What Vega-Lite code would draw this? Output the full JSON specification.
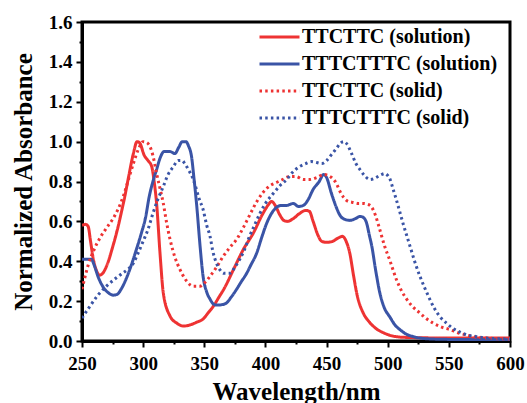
{
  "$schema": "https://vega.github.io/schema/vega-lite/v6.json",
  "width": 428,
  "height": 319,
  "autosize": {"type": "none"},
  "padding": {"left": 82, "top": 22, "right": 17, "bottom": 62},
  "background": "white",
  "config": {
    "view": {"stroke": "black", "strokeWidth": 3},
    "font": "Liberation Serif",
    "axis": {
      "grid": false,
      "domainColor": "black",
      "domainWidth": 3,
      "tickColor": "black",
      "tickWidth": 2,
      "labelFont": "Liberation Serif",
      "labelFontWeight": "bold",
      "labelFontSize": 19,
      "labelColor": "black",
      "titleFont": "Liberation Serif",
      "titleFontWeight": "bold",
      "titleFontSize": 25,
      "titleColor": "black"
    },
    "legend": {
      "orient": "none",
      "legendX": 176,
      "legendY": 5,
      "symbolType": "stroke",
      "symbolSize": 1600,
      "symbolStrokeWidth": 3,
      "clipHeight": 20,
      "labelFont": "Liberation Serif",
      "labelFontWeight": "bold",
      "labelFontSize": 20,
      "labelColor": "black",
      "labelLimit": 400,
      "labelOffset": 1,
      "rowPadding": 7,
      "title": null
    }
  },
  "data": {
    "values": [
      {"s": "TTCTTC (solution)", "x": 250, "y": 0.58},
      {"s": "TTCTTC (solution)", "x": 253, "y": 0.585},
      {"s": "TTCTTC (solution)", "x": 255, "y": 0.575},
      {"s": "TTCTTC (solution)", "x": 257, "y": 0.5},
      {"s": "TTCTTC (solution)", "x": 259, "y": 0.42},
      {"s": "TTCTTC (solution)", "x": 262, "y": 0.35},
      {"s": "TTCTTC (solution)", "x": 264.5, "y": 0.33},
      {"s": "TTCTTC (solution)", "x": 267, "y": 0.34},
      {"s": "TTCTTC (solution)", "x": 271, "y": 0.39},
      {"s": "TTCTTC (solution)", "x": 275, "y": 0.47},
      {"s": "TTCTTC (solution)", "x": 279, "y": 0.56},
      {"s": "TTCTTC (solution)", "x": 282, "y": 0.64},
      {"s": "TTCTTC (solution)", "x": 285, "y": 0.725},
      {"s": "TTCTTC (solution)", "x": 288, "y": 0.82},
      {"s": "TTCTTC (solution)", "x": 292, "y": 0.94},
      {"s": "TTCTTC (solution)", "x": 295, "y": 1.0},
      {"s": "TTCTTC (solution)", "x": 297, "y": 0.995},
      {"s": "TTCTTC (solution)", "x": 301, "y": 0.93},
      {"s": "TTCTTC (solution)", "x": 304, "y": 0.905},
      {"s": "TTCTTC (solution)", "x": 307, "y": 0.875},
      {"s": "TTCTTC (solution)", "x": 309, "y": 0.8},
      {"s": "TTCTTC (solution)", "x": 311, "y": 0.69},
      {"s": "TTCTTC (solution)", "x": 313.8, "y": 0.44},
      {"s": "TTCTTC (solution)", "x": 316.5, "y": 0.24},
      {"s": "TTCTTC (solution)", "x": 322, "y": 0.125},
      {"s": "TTCTTC (solution)", "x": 327.4, "y": 0.09},
      {"s": "TTCTTC (solution)", "x": 333, "y": 0.075},
      {"s": "TTCTTC (solution)", "x": 338, "y": 0.08},
      {"s": "TTCTTC (solution)", "x": 344, "y": 0.095},
      {"s": "TTCTTC (solution)", "x": 349, "y": 0.11},
      {"s": "TTCTTC (solution)", "x": 353, "y": 0.14},
      {"s": "TTCTTC (solution)", "x": 357.5, "y": 0.175},
      {"s": "TTCTTC (solution)", "x": 362, "y": 0.22},
      {"s": "TTCTTC (solution)", "x": 366, "y": 0.26},
      {"s": "TTCTTC (solution)", "x": 374, "y": 0.36},
      {"s": "TTCTTC (solution)", "x": 382, "y": 0.46},
      {"s": "TTCTTC (solution)", "x": 390, "y": 0.54},
      {"s": "TTCTTC (solution)", "x": 398, "y": 0.64},
      {"s": "TTCTTC (solution)", "x": 402, "y": 0.68},
      {"s": "TTCTTC (solution)", "x": 405, "y": 0.7},
      {"s": "TTCTTC (solution)", "x": 408, "y": 0.68},
      {"s": "TTCTTC (solution)", "x": 412, "y": 0.63},
      {"s": "TTCTTC (solution)", "x": 415, "y": 0.605},
      {"s": "TTCTTC (solution)", "x": 418, "y": 0.6},
      {"s": "TTCTTC (solution)", "x": 423, "y": 0.615},
      {"s": "TTCTTC (solution)", "x": 428, "y": 0.64},
      {"s": "TTCTTC (solution)", "x": 433, "y": 0.655},
      {"s": "TTCTTC (solution)", "x": 436, "y": 0.65},
      {"s": "TTCTTC (solution)", "x": 439, "y": 0.6},
      {"s": "TTCTTC (solution)", "x": 443, "y": 0.53},
      {"s": "TTCTTC (solution)", "x": 446, "y": 0.5},
      {"s": "TTCTTC (solution)", "x": 450, "y": 0.495},
      {"s": "TTCTTC (solution)", "x": 455, "y": 0.5},
      {"s": "TTCTTC (solution)", "x": 459, "y": 0.515},
      {"s": "TTCTTC (solution)", "x": 463, "y": 0.525},
      {"s": "TTCTTC (solution)", "x": 466, "y": 0.5},
      {"s": "TTCTTC (solution)", "x": 469, "y": 0.44},
      {"s": "TTCTTC (solution)", "x": 472, "y": 0.33},
      {"s": "TTCTTC (solution)", "x": 475, "y": 0.23},
      {"s": "TTCTTC (solution)", "x": 480, "y": 0.14},
      {"s": "TTCTTC (solution)", "x": 485, "y": 0.095},
      {"s": "TTCTTC (solution)", "x": 491, "y": 0.06},
      {"s": "TTCTTC (solution)", "x": 497, "y": 0.04},
      {"s": "TTCTTC (solution)", "x": 504, "y": 0.025},
      {"s": "TTCTTC (solution)", "x": 515, "y": 0.018},
      {"s": "TTCTTC (solution)", "x": 550, "y": 0.015},
      {"s": "TTCTTC (solution)", "x": 600, "y": 0.015},

      {"s": "TTTCTTTC (solution)", "x": 250, "y": 0.41},
      {"s": "TTTCTTTC (solution)", "x": 254, "y": 0.41},
      {"s": "TTTCTTTC (solution)", "x": 257.6, "y": 0.41},
      {"s": "TTTCTTTC (solution)", "x": 260, "y": 0.38},
      {"s": "TTTCTTTC (solution)", "x": 263, "y": 0.325},
      {"s": "TTTCTTTC (solution)", "x": 268.5, "y": 0.26},
      {"s": "TTTCTTTC (solution)", "x": 272, "y": 0.24},
      {"s": "TTTCTTTC (solution)", "x": 275.5, "y": 0.23},
      {"s": "TTTCTTTC (solution)", "x": 279, "y": 0.235},
      {"s": "TTTCTTTC (solution)", "x": 282, "y": 0.26},
      {"s": "TTTCTTTC (solution)", "x": 286, "y": 0.31},
      {"s": "TTTCTTTC (solution)", "x": 290, "y": 0.375},
      {"s": "TTTCTTTC (solution)", "x": 294, "y": 0.45},
      {"s": "TTTCTTTC (solution)", "x": 298.5, "y": 0.54},
      {"s": "TTTCTTTC (solution)", "x": 302, "y": 0.62},
      {"s": "TTTCTTTC (solution)", "x": 305, "y": 0.725},
      {"s": "TTTCTTTC (solution)", "x": 308, "y": 0.8},
      {"s": "TTTCTTTC (solution)", "x": 311, "y": 0.86},
      {"s": "TTTCTTTC (solution)", "x": 314, "y": 0.92},
      {"s": "TTTCTTTC (solution)", "x": 317, "y": 0.95},
      {"s": "TTTCTTTC (solution)", "x": 322, "y": 0.95},
      {"s": "TTTCTTTC (solution)", "x": 326, "y": 0.94},
      {"s": "TTTCTTTC (solution)", "x": 329, "y": 0.97},
      {"s": "TTTCTTTC (solution)", "x": 332, "y": 1.0},
      {"s": "TTTCTTTC (solution)", "x": 335, "y": 1.0},
      {"s": "TTTCTTTC (solution)", "x": 337, "y": 0.98},
      {"s": "TTTCTTTC (solution)", "x": 339.7, "y": 0.92},
      {"s": "TTTCTTTC (solution)", "x": 341.5, "y": 0.82},
      {"s": "TTTCTTTC (solution)", "x": 343.8, "y": 0.68},
      {"s": "TTTCTTTC (solution)", "x": 346.5, "y": 0.48},
      {"s": "TTTCTTTC (solution)", "x": 349, "y": 0.325},
      {"s": "TTTCTTTC (solution)", "x": 352, "y": 0.245},
      {"s": "TTTCTTTC (solution)", "x": 354.7, "y": 0.21},
      {"s": "TTTCTTTC (solution)", "x": 357.5, "y": 0.185},
      {"s": "TTTCTTTC (solution)", "x": 360, "y": 0.18},
      {"s": "TTTCTTTC (solution)", "x": 364, "y": 0.182},
      {"s": "TTTCTTTC (solution)", "x": 368, "y": 0.19},
      {"s": "TTTCTTTC (solution)", "x": 372, "y": 0.22},
      {"s": "TTTCTTTC (solution)", "x": 376.5, "y": 0.26},
      {"s": "TTTCTTTC (solution)", "x": 380, "y": 0.295},
      {"s": "TTTCTTTC (solution)", "x": 384.7, "y": 0.34},
      {"s": "TTTCTTTC (solution)", "x": 388, "y": 0.38},
      {"s": "TTTCTTTC (solution)", "x": 392.8, "y": 0.44},
      {"s": "TTTCTTTC (solution)", "x": 397, "y": 0.52},
      {"s": "TTTCTTTC (solution)", "x": 401, "y": 0.59},
      {"s": "TTTCTTTC (solution)", "x": 405, "y": 0.64},
      {"s": "TTTCTTTC (solution)", "x": 409, "y": 0.67},
      {"s": "TTTCTTTC (solution)", "x": 413, "y": 0.68},
      {"s": "TTTCTTTC (solution)", "x": 417.4, "y": 0.68},
      {"s": "TTTCTTTC (solution)", "x": 422.8, "y": 0.69},
      {"s": "TTTCTTTC (solution)", "x": 427, "y": 0.675},
      {"s": "TTTCTTTC (solution)", "x": 431, "y": 0.68},
      {"s": "TTTCTTTC (solution)", "x": 435, "y": 0.71},
      {"s": "TTTCTTTC (solution)", "x": 439, "y": 0.76},
      {"s": "TTTCTTTC (solution)", "x": 444, "y": 0.8},
      {"s": "TTTCTTTC (solution)", "x": 447.5, "y": 0.835},
      {"s": "TTTCTTTC (solution)", "x": 450, "y": 0.82},
      {"s": "TTTCTTTC (solution)", "x": 454, "y": 0.74},
      {"s": "TTTCTTTC (solution)", "x": 458, "y": 0.67},
      {"s": "TTTCTTTC (solution)", "x": 461, "y": 0.63},
      {"s": "TTTCTTTC (solution)", "x": 465, "y": 0.61},
      {"s": "TTTCTTTC (solution)", "x": 469, "y": 0.605},
      {"s": "TTTCTTTC (solution)", "x": 474, "y": 0.615},
      {"s": "TTTCTTTC (solution)", "x": 477.3, "y": 0.625},
      {"s": "TTTCTTTC (solution)", "x": 480, "y": 0.62},
      {"s": "TTTCTTTC (solution)", "x": 482.8, "y": 0.59},
      {"s": "TTTCTTTC (solution)", "x": 485, "y": 0.53},
      {"s": "TTTCTTTC (solution)", "x": 487, "y": 0.475},
      {"s": "TTTCTTTC (solution)", "x": 490, "y": 0.36},
      {"s": "TTTCTTTC (solution)", "x": 493.6, "y": 0.24},
      {"s": "TTTCTTTC (solution)", "x": 497, "y": 0.17},
      {"s": "TTTCTTTC (solution)", "x": 501.8, "y": 0.12},
      {"s": "TTTCTTTC (solution)", "x": 506, "y": 0.08},
      {"s": "TTTCTTTC (solution)", "x": 510, "y": 0.057},
      {"s": "TTTCTTTC (solution)", "x": 515, "y": 0.035},
      {"s": "TTTCTTTC (solution)", "x": 521, "y": 0.022},
      {"s": "TTTCTTTC (solution)", "x": 530, "y": 0.012},
      {"s": "TTTCTTTC (solution)", "x": 550, "y": 0.008},
      {"s": "TTTCTTTC (solution)", "x": 600, "y": 0.006},

      {"s": "TTCTTC (solid)", "x": 250, "y": 0.26},
      {"s": "TTCTTC (solid)", "x": 252, "y": 0.31},
      {"s": "TTCTTC (solid)", "x": 255, "y": 0.38},
      {"s": "TTCTTC (solid)", "x": 260, "y": 0.46},
      {"s": "TTCTTC (solid)", "x": 265, "y": 0.52},
      {"s": "TTCTTC (solid)", "x": 271, "y": 0.575},
      {"s": "TTCTTC (solid)", "x": 275, "y": 0.61},
      {"s": "TTCTTC (solid)", "x": 279.4, "y": 0.66},
      {"s": "TTCTTC (solid)", "x": 284, "y": 0.73},
      {"s": "TTCTTC (solid)", "x": 288, "y": 0.81},
      {"s": "TTCTTC (solid)", "x": 292, "y": 0.89},
      {"s": "TTCTTC (solid)", "x": 296, "y": 0.96},
      {"s": "TTCTTC (solid)", "x": 300, "y": 1.0},
      {"s": "TTCTTC (solid)", "x": 303, "y": 0.995},
      {"s": "TTCTTC (solid)", "x": 305.6, "y": 0.975},
      {"s": "TTCTTC (solid)", "x": 308, "y": 0.93},
      {"s": "TTCTTC (solid)", "x": 311, "y": 0.84},
      {"s": "TTCTTC (solid)", "x": 314, "y": 0.76},
      {"s": "TTCTTC (solid)", "x": 316.5, "y": 0.69},
      {"s": "TTCTTC (solid)", "x": 319, "y": 0.6},
      {"s": "TTCTTC (solid)", "x": 322, "y": 0.51},
      {"s": "TTCTTC (solid)", "x": 326, "y": 0.42},
      {"s": "TTCTTC (solid)", "x": 330, "y": 0.36},
      {"s": "TTCTTC (solid)", "x": 335, "y": 0.305},
      {"s": "TTCTTC (solid)", "x": 341, "y": 0.275},
      {"s": "TTCTTC (solid)", "x": 346.5, "y": 0.275},
      {"s": "TTCTTC (solid)", "x": 350, "y": 0.29},
      {"s": "TTCTTC (solid)", "x": 354.7, "y": 0.325},
      {"s": "TTCTTC (solid)", "x": 360, "y": 0.37},
      {"s": "TTCTTC (solid)", "x": 365.5, "y": 0.425},
      {"s": "TTCTTC (solid)", "x": 371, "y": 0.47},
      {"s": "TTCTTC (solid)", "x": 376.5, "y": 0.51},
      {"s": "TTCTTC (solid)", "x": 382, "y": 0.57},
      {"s": "TTCTTC (solid)", "x": 387, "y": 0.63},
      {"s": "TTCTTC (solid)", "x": 393, "y": 0.7},
      {"s": "TTCTTC (solid)", "x": 398, "y": 0.745},
      {"s": "TTCTTC (solid)", "x": 404, "y": 0.78},
      {"s": "TTCTTC (solid)", "x": 409, "y": 0.795},
      {"s": "TTCTTC (solid)", "x": 414, "y": 0.81},
      {"s": "TTCTTC (solid)", "x": 420, "y": 0.825},
      {"s": "TTCTTC (solid)", "x": 425, "y": 0.825},
      {"s": "TTCTTC (solid)", "x": 431, "y": 0.81},
      {"s": "TTCTTC (solid)", "x": 436, "y": 0.81},
      {"s": "TTCTTC (solid)", "x": 442, "y": 0.82},
      {"s": "TTCTTC (solid)", "x": 447.7, "y": 0.835},
      {"s": "TTCTTC (solid)", "x": 454, "y": 0.82},
      {"s": "TTCTTC (solid)", "x": 458, "y": 0.79},
      {"s": "TTCTTC (solid)", "x": 461, "y": 0.75},
      {"s": "TTCTTC (solid)", "x": 464, "y": 0.72},
      {"s": "TTCTTC (solid)", "x": 467.8, "y": 0.7},
      {"s": "TTCTTC (solid)", "x": 472, "y": 0.695},
      {"s": "TTCTTC (solid)", "x": 476, "y": 0.69},
      {"s": "TTCTTC (solid)", "x": 480, "y": 0.69},
      {"s": "TTCTTC (solid)", "x": 484, "y": 0.685},
      {"s": "TTCTTC (solid)", "x": 487, "y": 0.67},
      {"s": "TTCTTC (solid)", "x": 490, "y": 0.63},
      {"s": "TTCTTC (solid)", "x": 493, "y": 0.57},
      {"s": "TTCTTC (solid)", "x": 497.5, "y": 0.475},
      {"s": "TTCTTC (solid)", "x": 502, "y": 0.4},
      {"s": "TTCTTC (solid)", "x": 507, "y": 0.31},
      {"s": "TTCTTC (solid)", "x": 511, "y": 0.255},
      {"s": "TTCTTC (solid)", "x": 515.5, "y": 0.21},
      {"s": "TTCTTC (solid)", "x": 520, "y": 0.175},
      {"s": "TTCTTC (solid)", "x": 526.4, "y": 0.14},
      {"s": "TTCTTC (solid)", "x": 531, "y": 0.115},
      {"s": "TTCTTC (solid)", "x": 537, "y": 0.09},
      {"s": "TTCTTC (solid)", "x": 544, "y": 0.07},
      {"s": "TTCTTC (solid)", "x": 551, "y": 0.057},
      {"s": "TTCTTC (solid)", "x": 558, "y": 0.04},
      {"s": "TTCTTC (solid)", "x": 564.6, "y": 0.03},
      {"s": "TTCTTC (solid)", "x": 572, "y": 0.02},
      {"s": "TTCTTC (solid)", "x": 580, "y": 0.015},
      {"s": "TTCTTC (solid)", "x": 600, "y": 0.01},

      {"s": "TTTCTTTC (solid)", "x": 250, "y": 0.115},
      {"s": "TTTCTTTC (solid)", "x": 256, "y": 0.17},
      {"s": "TTTCTTTC (solid)", "x": 263, "y": 0.23},
      {"s": "TTTCTTTC (solid)", "x": 270, "y": 0.275},
      {"s": "TTTCTTTC (solid)", "x": 276.7, "y": 0.31},
      {"s": "TTTCTTTC (solid)", "x": 282, "y": 0.335},
      {"s": "TTTCTTTC (solid)", "x": 287.6, "y": 0.36},
      {"s": "TTTCTTTC (solid)", "x": 292, "y": 0.39},
      {"s": "TTTCTTTC (solid)", "x": 295.8, "y": 0.44},
      {"s": "TTTCTTTC (solid)", "x": 300, "y": 0.5},
      {"s": "TTTCTTTC (solid)", "x": 304, "y": 0.56},
      {"s": "TTTCTTTC (solid)", "x": 308, "y": 0.64},
      {"s": "TTTCTTTC (solid)", "x": 312, "y": 0.71},
      {"s": "TTTCTTTC (solid)", "x": 316.5, "y": 0.775},
      {"s": "TTTCTTTC (solid)", "x": 320, "y": 0.83},
      {"s": "TTTCTTTC (solid)", "x": 324.7, "y": 0.875},
      {"s": "TTTCTTTC (solid)", "x": 328.8, "y": 0.905},
      {"s": "TTTCTTTC (solid)", "x": 332, "y": 0.905},
      {"s": "TTTCTTTC (solid)", "x": 334, "y": 0.89},
      {"s": "TTTCTTTC (solid)", "x": 337, "y": 0.86},
      {"s": "TTTCTTTC (solid)", "x": 341, "y": 0.81},
      {"s": "TTTCTTTC (solid)", "x": 346, "y": 0.71},
      {"s": "TTTCTTTC (solid)", "x": 349, "y": 0.66},
      {"s": "TTTCTTTC (solid)", "x": 352, "y": 0.58},
      {"s": "TTTCTTTC (solid)", "x": 354.7, "y": 0.525},
      {"s": "TTTCTTTC (solid)", "x": 357, "y": 0.45},
      {"s": "TTTCTTTC (solid)", "x": 360, "y": 0.39},
      {"s": "TTTCTTTC (solid)", "x": 363, "y": 0.355},
      {"s": "TTTCTTTC (solid)", "x": 366, "y": 0.34},
      {"s": "TTTCTTTC (solid)", "x": 371, "y": 0.34},
      {"s": "TTTCTTTC (solid)", "x": 375, "y": 0.37},
      {"s": "TTTCTTTC (solid)", "x": 379, "y": 0.41},
      {"s": "TTTCTTTC (solid)", "x": 383, "y": 0.46},
      {"s": "TTTCTTTC (solid)", "x": 387, "y": 0.525},
      {"s": "TTTCTTTC (solid)", "x": 391, "y": 0.58},
      {"s": "TTTCTTTC (solid)", "x": 395.5, "y": 0.64},
      {"s": "TTTCTTTC (solid)", "x": 400, "y": 0.69},
      {"s": "TTTCTTTC (solid)", "x": 406.4, "y": 0.74},
      {"s": "TTTCTTTC (solid)", "x": 412, "y": 0.78},
      {"s": "TTTCTTTC (solid)", "x": 417.4, "y": 0.81},
      {"s": "TTTCTTTC (solid)", "x": 422, "y": 0.845},
      {"s": "TTTCTTTC (solid)", "x": 428, "y": 0.875},
      {"s": "TTTCTTTC (solid)", "x": 433, "y": 0.89},
      {"s": "TTTCTTTC (solid)", "x": 437.8, "y": 0.9},
      {"s": "TTTCTTTC (solid)", "x": 442, "y": 0.895},
      {"s": "TTTCTTTC (solid)", "x": 446, "y": 0.89},
      {"s": "TTTCTTTC (solid)", "x": 450, "y": 0.905},
      {"s": "TTTCTTTC (solid)", "x": 454, "y": 0.935},
      {"s": "TTTCTTTC (solid)", "x": 458, "y": 0.965},
      {"s": "TTTCTTTC (solid)", "x": 461, "y": 0.99},
      {"s": "TTTCTTTC (solid)", "x": 464, "y": 1.0},
      {"s": "TTTCTTTC (solid)", "x": 466.4, "y": 0.99},
      {"s": "TTTCTTTC (solid)", "x": 470.5, "y": 0.94},
      {"s": "TTTCTTTC (solid)", "x": 474, "y": 0.89},
      {"s": "TTTCTTTC (solid)", "x": 477.3, "y": 0.86},
      {"s": "TTTCTTTC (solid)", "x": 481, "y": 0.83},
      {"s": "TTTCTTTC (solid)", "x": 485.5, "y": 0.81},
      {"s": "TTTCTTTC (solid)", "x": 489, "y": 0.815},
      {"s": "TTTCTTTC (solid)", "x": 492, "y": 0.825},
      {"s": "TTTCTTTC (solid)", "x": 495, "y": 0.835},
      {"s": "TTTCTTTC (solid)", "x": 497.7, "y": 0.84},
      {"s": "TTTCTTTC (solid)", "x": 500, "y": 0.83},
      {"s": "TTTCTTTC (solid)", "x": 502, "y": 0.81},
      {"s": "TTTCTTTC (solid)", "x": 504, "y": 0.77},
      {"s": "TTTCTTTC (solid)", "x": 507, "y": 0.71},
      {"s": "TTTCTTTC (solid)", "x": 510, "y": 0.645},
      {"s": "TTTCTTTC (solid)", "x": 513, "y": 0.58},
      {"s": "TTTCTTTC (solid)", "x": 516, "y": 0.52},
      {"s": "TTTCTTTC (solid)", "x": 519, "y": 0.46},
      {"s": "TTTCTTTC (solid)", "x": 522, "y": 0.4},
      {"s": "TTTCTTTC (solid)", "x": 526, "y": 0.33},
      {"s": "TTTCTTTC (solid)", "x": 530, "y": 0.27},
      {"s": "TTTCTTTC (solid)", "x": 534, "y": 0.215},
      {"s": "TTTCTTTC (solid)", "x": 538, "y": 0.165},
      {"s": "TTTCTTTC (solid)", "x": 543, "y": 0.12},
      {"s": "TTTCTTTC (solid)", "x": 548, "y": 0.09},
      {"s": "TTTCTTTC (solid)", "x": 553, "y": 0.065},
      {"s": "TTTCTTTC (solid)", "x": 559, "y": 0.045},
      {"s": "TTTCTTTC (solid)", "x": 565, "y": 0.03},
      {"s": "TTTCTTTC (solid)", "x": 572.6, "y": 0.022},
      {"s": "TTTCTTTC (solid)", "x": 580, "y": 0.015},
      {"s": "TTTCTTTC (solid)", "x": 600, "y": 0.01}
    ]
  },
  "mark": {"type": "line", "interpolate": "monotone", "strokeWidth": 3, "clip": true},
  "encoding": {
    "x": {
      "field": "x",
      "type": "quantitative",
      "scale": {"domain": [250, 600], "nice": false, "zero": false},
      "axis": {
        "title": "Wavelength/nm",
        "values": [250, 275, 300, 325, 350, 375, 400, 425, 450, 475, 500, 525, 550, 575, 600],
        "labelExpr": "datum.value % 50 === 0 ? datum.label : ''",
        "tickSize": {"condition": {"test": "datum.value % 50 === 0", "value": 6}, "value": 3},
        "labelPadding": 7,
        "titlePadding": 6,
        "labelFlush": false,
        "labelOverlap": false
      }
    },
    "y": {
      "field": "y",
      "type": "quantitative",
      "scale": {"domain": [0, 1.6], "nice": false},
      "axis": {
        "title": "Normalized Absorbance",
        "values": [0, 0.1, 0.2, 0.3, 0.4, 0.5, 0.6, 0.7, 0.8, 0.9, 1.0, 1.1, 1.2, 1.3, 1.4, 1.5, 1.6],
        "labelExpr": "round(datum.value * 10) % 2 === 0 ? format(datum.value, '.1f') : ''",
        "tickSize": {"condition": {"test": "round(datum.value * 10) % 2 === 0", "value": 6}, "value": 3},
        "labelPadding": 4,
        "titlePadding": 12,
        "labelFlush": false,
        "labelOverlap": false
      }
    },
    "color": {
      "field": "s",
      "type": "nominal",
      "scale": {
        "domain": ["TTCTTC (solution)", "TTTCTTTC (solution)", "TTCTTC (solid)", "TTTCTTTC (solid)"],
        "range": ["#EE3333", "#3A54A6", "#EE3333", "#3A54A6"]
      },
      "legend": {"title": null}
    },
    "strokeDash": {
      "field": "s",
      "type": "nominal",
      "scale": {
        "domain": ["TTCTTC (solution)", "TTTCTTTC (solution)", "TTCTTC (solid)", "TTTCTTTC (solid)"],
        "range": [[1, 0], [1, 0], [2.5, 3.2], [2.5, 3.2]]
      },
      "legend": {"title": null}
    }
  }
}
